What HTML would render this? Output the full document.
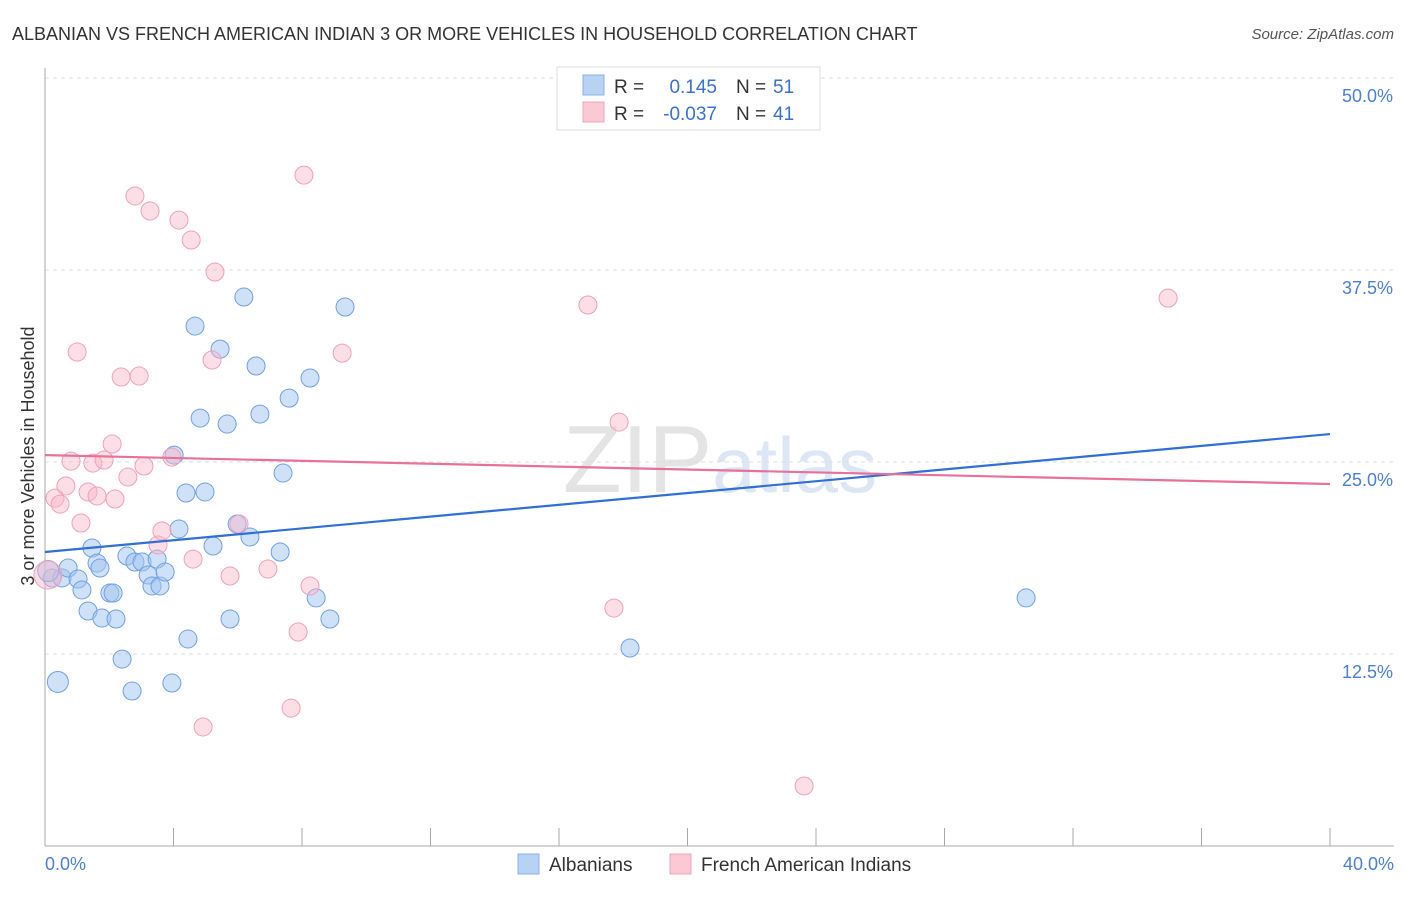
<!DOCTYPE html>
<html><head><meta charset="utf-8"><style>
body{margin:0;background:#fff;font-family:"Liberation Sans",sans-serif;}
svg text{font-family:"Liberation Sans",sans-serif;}
</style></head><body>
<svg id="c" width="1406" height="892">
<text x="12" y="40" font-size="18" fill="#333">ALBANIAN VS FRENCH AMERICAN INDIAN 3 OR MORE VEHICLES IN HOUSEHOLD CORRELATION CHART</text>
<text x="1394" y="39" font-size="15" fill="#555" font-style="italic" text-anchor="end">Source: ZipAtlas.com</text>
<text x="720" y="492" font-size="96" fill="#e4e4e4" text-anchor="middle" font-family="Liberation Serif">ZIP<tspan fill="#dce6f4" font-family="Liberation Sans" font-size="78">atlas</tspan></text>
<g id="grid"></g>
<line x1="45" y1="68" x2="45" y2="846" stroke="#aaa"/>
<line x1="45" y1="846" x2="1394" y2="846" stroke="#aaa"/>
<g id="ticks"></g>
<g id="pts"></g>
<g id="lines"></g>
<text transform="translate(34,456) rotate(-90)" font-size="18" fill="#333" text-anchor="middle">3 or more Vehicles in Household</text>
<text x="45" y="870" font-size="18" fill="#4a7fd4">0.0%</text>
<text x="1394" y="870" font-size="18" fill="#4a7fd4" text-anchor="end">40.0%</text>
<g>
<rect x="557" y="67" width="263" height="63" fill="#fff" stroke="#ddd"/>
<rect x="583" y="75" width="21" height="20" fill="#b8d2f4" stroke="#8ab0e6"/>
<rect x="583" y="102" width="21" height="20" fill="#fbc8d6" stroke="#f0a4ba"/>
<text x="614" y="93" font-size="19" fill="#333">R = </text><text x="717" y="93" font-size="19" fill="#3a70d0" text-anchor="end">0.145</text>
<text x="736" y="93" font-size="19" fill="#333">N = </text><text x="773" y="93" font-size="19" fill="#3a70d0">51</text>
<text x="614" y="120" font-size="19" fill="#333">R = </text><text x="717" y="120" font-size="19" fill="#3a70d0" text-anchor="end">-0.037</text>
<text x="736" y="120" font-size="19" fill="#333">N = </text><text x="773" y="120" font-size="19" fill="#3a70d0">41</text>
</g>
<g>
<rect x="518" y="854" width="21" height="20" fill="#b8d2f4" stroke="#8ab0e6"/>
<text x="549" y="871" font-size="19" fill="#333">Albanians</text>
<rect x="670" y="854" width="21" height="20" fill="#fbc8d6" stroke="#f0a4ba"/>
<text x="701" y="871" font-size="19" fill="#333">French American Indians</text>
</g>
</svg>
<script>
const yTicks=[12.5,25,37.5,50];
const yTickLabels=["12.5%","25.0%","37.5%","50.0%"];
const xTicks=[0,4,8,12,16,20,24,28,32,36,40];
const blueX=[0.40,0.22,0.53,0.72,1.03,1.46,1.62,1.71,1.15,1.34,1.77,2.02,2.12,2.21,2.40,2.55,2.71,2.80,3.02,3.21,3.33,3.49,3.58,3.74,3.95,4.02,4.17,4.39,4.45,4.67,4.83,4.98,5.23,5.45,5.67,5.76,5.98,6.19,6.38,6.57,6.69,7.32,7.41,7.60,8.25,8.44,8.87,9.34,18.21,30.54,0.1];
const blueY=[10.68,17.45,17.45,18.10,17.38,19.40,18.42,18.10,16.67,15.30,14.84,16.47,16.47,14.78,12.17,18.88,10.09,18.49,18.49,17.64,16.93,18.68,16.93,17.84,10.61,25.45,20.64,22.98,13.48,33.85,27.86,23.05,19.53,32.35,27.47,14.78,20.96,35.74,20.12,31.25,28.12,19.14,24.28,29.16,30.47,16.15,14.78,35.09,12.89,16.15,17.9];
const pinkX=[0.09,0.31,0.47,0.65,0.81,1.00,1.12,1.34,1.49,1.62,1.84,2.09,2.18,2.37,2.58,2.80,2.93,3.08,3.27,3.52,3.64,3.95,4.17,4.55,4.61,4.92,5.20,5.29,5.76,6.04,6.94,7.66,7.88,8.06,8.25,9.25,16.90,17.71,17.87,23.63,34.96];
const pinkY=[17.64,22.65,22.26,23.44,25.06,32.16,21.03,23.05,24.93,22.79,25.13,26.17,22.59,30.53,24.02,42.32,30.60,24.74,41.34,19.60,20.51,25.32,40.75,39.45,18.68,7.75,31.64,37.37,17.58,20.96,18.03,8.98,13.93,43.68,16.93,32.09,35.22,15.49,27.60,3.91,35.67];
const blueTrend=[19.14,26.82];
const pinkTrend=[25.45,23.57];
const X=v=>45+v/40*1285;
const Y=v=>846-v/12.5*192;
const NS="http://www.w3.org/2000/svg";
function mk(t,p,a){const e=document.createElementNS(NS,t);for(const k in a)e.setAttribute(k,a[k]);p.appendChild(e);return e;}
const grid=document.getElementById('grid'),ticks=document.getElementById('ticks'),pts=document.getElementById('pts'),lines=document.getElementById('lines');
yTicks.forEach((v,i)=>{
 const l=mk('line',grid,{x1:45,x2:1394,y1:Y(v),y2:Y(v),stroke:'#ddd','stroke-dasharray':'4,4'});
 
 
 const t=mk('text',grid,{x:1393,y:Y(v)+24,'font-size':18,fill:'#4a7fd4','text-anchor':'end'});
 t.textContent=yTickLabels[i];
 
 
});
xTicks.forEach(v=>{
 const l=mk('line',ticks,{x1:X(v),x2:X(v),y1:828,y2:846,stroke:'#aaa'});
 
 
});
blueX.forEach((v,i)=>{
 const big=i===0||i===50;
 const c=mk('circle',pts,{cx:X(v),cy:Y(blueY[i]),r:big?10.5:9,fill:'rgba(160,196,240,0.5)',stroke:'#6fa0e6','stroke-width':1});
 
 
});
pinkX.forEach((v,i)=>{
 const big=i===0;
 const c=mk('circle',pts,{cx:X(v),cy:Y(pinkY[i]),r:big?14:9,fill:'rgba(248,182,202,0.45)',stroke:'#f0a0ba','stroke-width':1});
 
 
});
const bl=mk('line',lines,{x1:X(0),x2:X(40),y1:Y(blueTrend[0]),y2:Y(blueTrend[1]),stroke:'#2f6fd6','stroke-width':2.2});


const pl=mk('line',lines,{x1:X(0),x2:X(40),y1:Y(pinkTrend[0]),y2:Y(pinkTrend[1]),stroke:'#e8709a','stroke-width':2.2});


</script>
</body></html>
